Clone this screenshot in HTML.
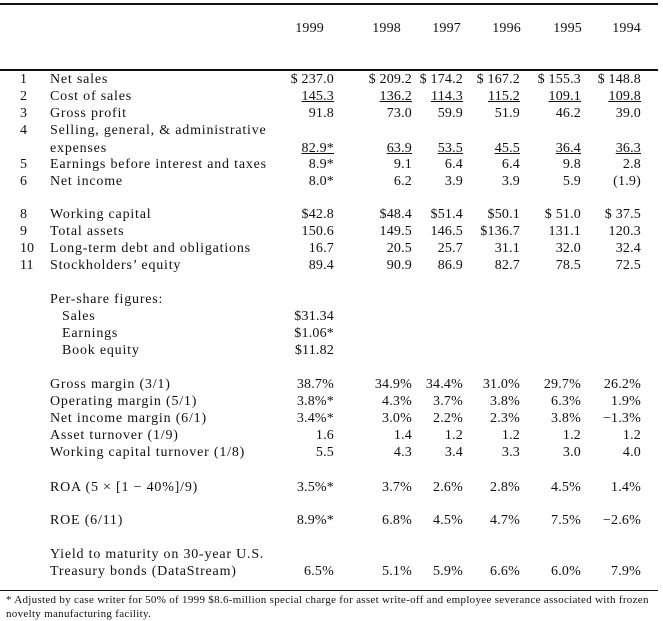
<!DOCTYPE html>
<html><head><meta charset="utf-8"><style>
body{margin:0;width:663px;height:621px;background:#fff;position:relative;font-family:"Liberation Serif",serif;font-size:14px;letter-spacing:0.8px;color:#111;overflow:hidden}
.r{position:absolute;left:0;width:663px;height:16px;line-height:16px}
.r span{position:absolute;white-space:nowrap}
.n{left:20px;letter-spacing:0}.l{left:50px}.i{left:62px}
.c{text-align:right;width:90px;letter-spacing:0.2px}
.c1{left:244px}.c2{left:322px}.c3{left:373px}.c4{left:430px}.c5{left:491px}.c6{left:551px}
.h1{left:234px}.h2{left:311px}.h3{left:371px}.h4{left:431px}.h5{left:492px}.h6{left:551px}
u{text-decoration:underline}
.line{position:absolute;left:0;width:658px;height:1.5px;background:#111}
.fn{position:absolute;left:6px;font-size:11px;letter-spacing:0.3px;line-height:14px;width:652px}
</style></head><body>
<div class="line" style="top:3px"></div>
<div class="line" style="top:69px"></div>
<div class="line" style="top:590px;height:1px"></div>
<div class="r" style="top:21px"><span class="c h1">1999</span><span class="c h2">1998</span><span class="c h3">1997</span><span class="c h4">1996</span><span class="c h5">1995</span><span class="c h6">1994</span></div>

<div class="r" style="top:72px"><span class="n">1</span><span class="l">Net sales</span><span class="c c1">$ 237.0</span><span class="c c2">$ 209.2</span><span class="c c3">$ 174.2</span><span class="c c4">$ 167.2</span><span class="c c5">$ 155.3</span><span class="c c6">$ 148.8</span></div>
<div class="r" style="top:89px"><span class="n">2</span><span class="l">Cost of sales</span><span class="c c1"><u>145.3</u></span><span class="c c2"><u>136.2</u></span><span class="c c3"><u>114.3</u></span><span class="c c4"><u>115.2</u></span><span class="c c5"><u>109.1</u></span><span class="c c6"><u>109.8</u></span></div>
<div class="r" style="top:106px"><span class="n">3</span><span class="l">Gross profit</span><span class="c c1">91.8</span><span class="c c2">73.0</span><span class="c c3">59.9</span><span class="c c4">51.9</span><span class="c c5">46.2</span><span class="c c6">39.0</span></div>
<div class="r" style="top:123px"><span class="n">4</span><span class="l">Selling, general, &amp; administrative</span></div>
<div class="r" style="top:141px"><span class="l">expenses</span><span class="c c1"><u>82.9*</u></span><span class="c c2"><u>63.9</u></span><span class="c c3"><u>53.5</u></span><span class="c c4"><u>45.5</u></span><span class="c c5"><u>36.4</u></span><span class="c c6"><u>36.3</u></span></div>
<div class="r" style="top:157px"><span class="n">5</span><span class="l">Earnings before interest and taxes</span><span class="c c1">8.9*</span><span class="c c2">9.1</span><span class="c c3">6.4</span><span class="c c4">6.4</span><span class="c c5">9.8</span><span class="c c6">2.8</span></div>
<div class="r" style="top:174px"><span class="n">6</span><span class="l">Net income</span><span class="c c1">8.0*</span><span class="c c2">6.2</span><span class="c c3">3.9</span><span class="c c4">3.9</span><span class="c c5">5.9</span><span class="c c6">(1.9)</span></div>

<div class="r" style="top:207px"><span class="n">8</span><span class="l">Working capital</span><span class="c c1">$42.8</span><span class="c c2">$48.4</span><span class="c c3">$51.4</span><span class="c c4">$50.1</span><span class="c c5">$ 51.0</span><span class="c c6">$ 37.5</span></div>
<div class="r" style="top:224px"><span class="n">9</span><span class="l">Total assets</span><span class="c c1">150.6</span><span class="c c2">149.5</span><span class="c c3">146.5</span><span class="c c4">$136.7</span><span class="c c5">131.1</span><span class="c c6">120.3</span></div>
<div class="r" style="top:241px"><span class="n">10</span><span class="l">Long-term debt and obligations</span><span class="c c1">16.7</span><span class="c c2">20.5</span><span class="c c3">25.7</span><span class="c c4">31.1</span><span class="c c5">32.0</span><span class="c c6">32.4</span></div>
<div class="r" style="top:258px"><span class="n">11</span><span class="l">Stockholders’ equity</span><span class="c c1">89.4</span><span class="c c2">90.9</span><span class="c c3">86.9</span><span class="c c4">82.7</span><span class="c c5">78.5</span><span class="c c6">72.5</span></div>

<div class="r" style="top:292px"><span class="l">Per-share figures:</span></div>
<div class="r" style="top:309px"><span class="i">Sales</span><span class="c c1">$31.34</span></div>
<div class="r" style="top:326px"><span class="i">Earnings</span><span class="c c1">$1.06*</span></div>
<div class="r" style="top:343px"><span class="i">Book equity</span><span class="c c1">$11.82</span></div>

<div class="r" style="top:377px"><span class="l">Gross margin (3/1)</span><span class="c c1">38.7%</span><span class="c c2">34.9%</span><span class="c c3">34.4%</span><span class="c c4">31.0%</span><span class="c c5">29.7%</span><span class="c c6">26.2%</span></div>
<div class="r" style="top:394px"><span class="l">Operating margin (5/1)</span><span class="c c1">3.8%*</span><span class="c c2">4.3%</span><span class="c c3">3.7%</span><span class="c c4">3.8%</span><span class="c c5">6.3%</span><span class="c c6">1.9%</span></div>
<div class="r" style="top:411px"><span class="l">Net income margin (6/1)</span><span class="c c1">3.4%*</span><span class="c c2">3.0%</span><span class="c c3">2.2%</span><span class="c c4">2.3%</span><span class="c c5">3.8%</span><span class="c c6">−1.3%</span></div>
<div class="r" style="top:428px"><span class="l">Asset turnover (1/9)</span><span class="c c1">1.6</span><span class="c c2">1.4</span><span class="c c3">1.2</span><span class="c c4">1.2</span><span class="c c5">1.2</span><span class="c c6">1.2</span></div>
<div class="r" style="top:445px"><span class="l">Working capital turnover (1/8)</span><span class="c c1">5.5</span><span class="c c2">4.3</span><span class="c c3">3.4</span><span class="c c4">3.3</span><span class="c c5">3.0</span><span class="c c6">4.0</span></div>

<div class="r" style="top:480px"><span class="l">ROA (5 × [1 − 40%]/9)</span><span class="c c1">3.5%*</span><span class="c c2">3.7%</span><span class="c c3">2.6%</span><span class="c c4">2.8%</span><span class="c c5">4.5%</span><span class="c c6">1.4%</span></div>
<div class="r" style="top:513px"><span class="l">ROE (6/11)</span><span class="c c1">8.9%*</span><span class="c c2">6.8%</span><span class="c c3">4.5%</span><span class="c c4">4.7%</span><span class="c c5">7.5%</span><span class="c c6">−2.6%</span></div>

<div class="r" style="top:547px"><span class="l">Yield to maturity on 30-year U.S.</span></div>
<div class="r" style="top:564px"><span class="l">Treasury bonds (DataStream)</span><span class="c c1">6.5%</span><span class="c c2">5.1%</span><span class="c c3">5.9%</span><span class="c c4">6.6%</span><span class="c c5">6.0%</span><span class="c c6">7.9%</span></div>

<div class="fn" style="top:593px">* Adjusted by case writer for 50% of 1999 $8.6-million special charge for asset write-off and employee severance associated with frozen novelty manufacturing facility.</div>
</body></html>
